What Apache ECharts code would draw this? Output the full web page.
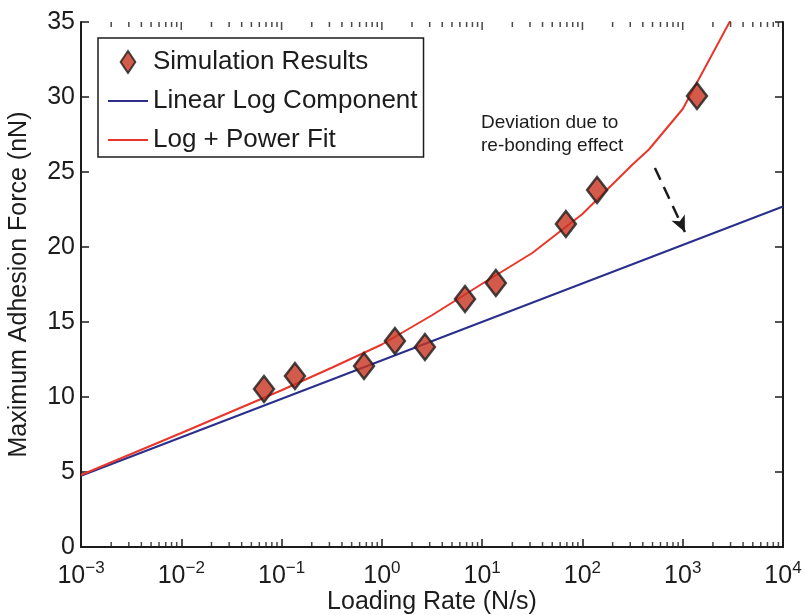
<!DOCTYPE html>
<html>
<head>
<meta charset="utf-8">
<script src="https://cdn.jsdelivr.net/npm/echarts@6/dist/echarts.min.js"></script>
<style>
  html, body { margin: 0; padding: 0; background: #ffffff; }
  #chart { width: 804px; height: 615px; }
</style>
</head>
<body>
<div id="chart"></div>
<script>
// Simulated rupture forces against loading rate
const simRate  = [0.0668, 0.136, 0.664, 1.35, 2.69, 6.75, 13.7, 68.4, 140, 1387];
const simForce = [10.53, 11.4, 12.07, 13.73, 13.33, 16.53, 17.6, 21.53, 23.8, 30.07];

// Linear-in-log component (straight line on the semilog axes)
const linRate  = [0.001, 10000];
const linForce = [4.75, 22.7];

// Log + power fit, sampled along the loading-rate range
const fitRate  = [0.001, 0.01, 0.1, 0.316, 1, 3.16, 10, 31.6, 100, 316, 460, 1000, 3160];
const fitForce = [4.8, 7.6, 10.45, 11.95, 13.5, 15.45, 17.55, 19.6, 22.2, 25.5, 26.5, 29.2, 35.4];

// Axis ranges and tick positions
const xMin = 0.001, xMax = 10000;
const yMin = 0, yMax = 35, yStep = 5;
const decades = [0.001, 0.01, 0.1, 1, 10, 100, 1000, 10000];
const minorMultipliers = [2, 3, 4, 5, 6, 7, 8, 9];

// Annotation
const noteText = ['Deviation due to', 're-bonding effect'];
const arrowFrom = [528, 25.27];
const arrowTo = [1052, 21.0];

const FONT = '"Liberation Sans", Arial, Helvetica, sans-serif';
const INK = '#1c1c1c';
const BLUE = '#2a2f8c';
const RED = '#e8372a';

const zip = (xs, ys) => xs.map((x, i) => [x, ys[i]]);

// minor ticks at 2..9 within each decade
const minorTicks = [];
decades.slice(0, -1).forEach(d => minorMultipliers.forEach(m => minorTicks.push(m * d)));

function expLabel(v) {
  const e = Math.round(Math.log10(v));
  const s = e < 0 ? '\u2212' + (-e) : String(e);
  return '{b|10}{s|' + s + '}';
}

const axisLineStyle = { color: INK, width: 2 };
const tickStyle = { color: INK, width: 1.5 };

function edgeTicks(name, values, yVal, len, down) {
  return {
    name: name,
    type: 'scatter',
    data: values.map(v => [v, yVal]),
    symbol: 'rect',
    symbolSize: [1.5, len],
    symbolOffset: [0, down ? len / 2 : -len / 2],
    itemStyle: { color: INK },
    clip: false,
    silent: true,
    z: 6
  };
}

const chart = echarts.init(document.getElementById('chart'), null, { renderer: 'canvas' });

chart.setOption({
  backgroundColor: '#ffffff',
  animation: false,
  textStyle: { fontFamily: FONT },
  grid: { left: 81, right: 21, top: 22, bottom: 68, outerBoundsMode: 'none', containLabel: false },
  legend: {
    left: 98, top: 38,
    orient: 'vertical',
    padding: [11, 6, 4, 10],
    itemGap: 13,
    itemWidth: 40,
    itemHeight: 22,
    symbolKeepAspect: true,
    borderColor: INK,
    borderWidth: 1.5,
    backgroundColor: '#ffffff',
    textStyle: { fontFamily: FONT, fontSize: 26, color: INK },
    data: [
      { name: 'Simulation Results', icon: 'path://M0,-12L8,0L0,12L-8,0Z',
        itemStyle: { color: '#c8321f', borderColor: INK, borderWidth: 2 } },
      { name: 'Linear Log Component', icon: 'path://M0,0H40V2H0Z', itemStyle: { color: BLUE } },
      { name: 'Log + Power Fit', icon: 'path://M0,0H40V2H0Z', itemStyle: { color: RED } }
    ]
  },
  xAxis: [
    {
      type: 'log', logBase: 10, min: xMin, max: xMax, splitNumber: 7,
      position: 'bottom',
      name: 'Loading Rate (N/s)', nameLocation: 'middle', nameGap: 43,
      nameMoveOverlap: false,
      nameTextStyle: { fontFamily: FONT, fontSize: 25, color: INK },
      axisLine: { show: true, lineStyle: axisLineStyle },
      axisTick: { show: true, inside: true, length: 8, lineStyle: tickStyle },
      splitLine: { show: false },
      axisLabel: {
        margin: 13,
        formatter: expLabel,
        rich: {
          b: { fontFamily: FONT, fontSize: 25, color: INK },
          s: { fontFamily: FONT, fontSize: 17, color: INK, padding: [0, 0, 15, 0] }
        }
      }
    },
    {
      type: 'log', logBase: 10, min: xMin, max: xMax, splitNumber: 7,
      position: 'top',
      axisLine: { show: true, lineStyle: axisLineStyle },
      axisTick: { show: false },
      axisLabel: { show: false },
      splitLine: { show: false }
    }
  ],
  yAxis: [
    {
      type: 'value', min: yMin, max: yMax, interval: yStep,
      position: 'left',
      name: 'Maximum Adhesion Force (nN)', nameLocation: 'middle', nameGap: 49,
      nameMoveOverlap: false,
      nameTextStyle: { fontFamily: FONT, fontSize: 25, color: INK },
      axisLine: { show: true, lineStyle: axisLineStyle },
      axisTick: { show: true, inside: true, length: 8, lineStyle: tickStyle },
      axisLabel: { margin: 6, fontFamily: FONT, fontSize: 25, color: INK },
      splitLine: { show: false }
    },
    {
      type: 'value', min: yMin, max: yMax, interval: yStep,
      position: 'right',
      axisLine: { show: true, lineStyle: axisLineStyle },
      axisTick: { show: true, inside: true, length: 8, lineStyle: tickStyle },
      axisLabel: { show: false },
      splitLine: { show: false }
    }
  ],
  series: [
    {
      name: 'Linear Log Component',
      type: 'line',
      data: zip(linRate, linForce),
      symbol: 'none',
      lineStyle: { color: BLUE, width: 2 },
      itemStyle: { color: BLUE },
      z: 3
    },
    {
      name: 'Log + Power Fit',
      type: 'line',
      data: zip(fitRate, fitForce),
      symbol: 'none',
      smooth: false,
      lineStyle: { color: RED, width: 2 },
      itemStyle: { color: RED },
      z: 4,
      markLine: {
        silent: true,
        symbol: ['none', 'arrow'],
        symbolSize: [11, 16],
        label: { show: false },
        lineStyle: { color: INK, width: 2.5, type: [13, 8] },
        data: [[{ coord: arrowFrom }, { coord: arrowTo }]]
      }
    },
    {
      name: 'Simulation Results',
      type: 'scatter',
      data: zip(simRate, simForce),
      symbol: 'diamond',
      symbolSize: [20, 26],
      itemStyle: { color: '#c8321f', borderColor: INK, borderWidth: 2.5 },
      z: 5
    },
    edgeTicks('minor-bottom', minorTicks, yMin, 5, false),
    edgeTicks('minor-top', minorTicks, yMax, 5, true),
    edgeTicks('major-top', decades, yMax, 8, true)
  ],
  graphic: [
    {
      type: 'text',
      left: 481, top: 111,
      style: {
        text: noteText.join('\n'),
        font: '19px ' + FONT,
        fill: INK,
        lineHeight: 23
      }
    }
  ]
});
</script>
</body>
</html>
